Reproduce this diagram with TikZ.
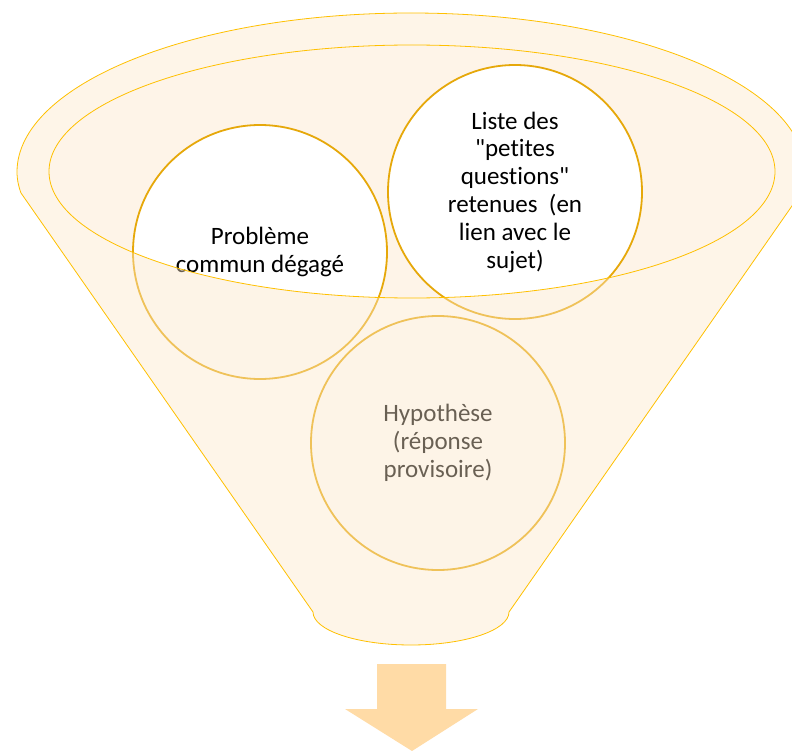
\documentclass[tikz,border=0pt]{standalone}
\usepackage{fontspec}
\setmainfont{Carlito}[Ligatures={TeXOff,CommonOff}]
\definecolor{peach}{RGB}{254,244,232}
\definecolor{overlaycol}{RGB}{252,230,200}
\definecolor{funnelline}{RGB}{255,192,0}
\definecolor{circleline}{RGB}{230,168,10}
\definecolor{arrowfill}{RGB}{255,219,166}
\tikzset{
  bubble/.style={circle, draw=circleline, line width=1.8pt, fill=white,
    minimum size=254pt, inner sep=0pt, align=center, text=black,
    font=\fontsize{25}{27.8}\selectfont},
  funnelstroke/.style={draw=funnelline, line width=0.8pt},
}
\begin{document}
\begin{tikzpicture}[x=1pt,y=1pt]
\useasboundingbox (0,0) rectangle (792,-751);
% inner ellipse background
\fill[peach] (412,-171.5) ellipse[x radius=363, y radius=126.5];
% circles
\node[bubble] (c1) at (260,-252) {Problème\\commun dégagé};
\node[bubble] (c2) at (515,-192) {Liste des\\"petites\\questions"\\retenues~~(en\\lien avec le\\sujet)};
\node[bubble] (c3) at (438,-443) {Hypothèse\\(réponse\\provisoire)};
% funnel body overlay with hole
\fill[overlaycol, fill opacity=0.42, even odd rule]
  (17,-172) arc[start angle=180, end angle=0, x radius=394, y radius=159]
  .. controls (805,-180) and (803,-188) .. (801,-193)
  -- (509,-612) arc[start angle=0, end angle=-180, x radius=98, y radius=33]
  -- (21,-193) .. controls (19,-188) and (17,-180) .. (17,-172) -- cycle
  (412,-171.5) ellipse[x radius=363, y radius=126.5];
% outlines
\draw[funnelstroke]
  (17,-172) arc[start angle=180, end angle=0, x radius=394, y radius=159]
  .. controls (805,-180) and (803,-188) .. (801,-193)
  -- (509,-612) arc[start angle=0, end angle=-180, x radius=98, y radius=33]
  -- (21,-193) .. controls (19,-188) and (17,-180) .. (17,-172) -- cycle;
\draw[funnelstroke] (412,-171.5) ellipse[x radius=363, y radius=126.5];
% arrow
\fill[arrowfill] (377,-664) -- (446,-664) -- (446,-709) -- (478,-709)
  -- (412,-751) -- (345,-709) -- (377,-709) -- cycle;
\end{tikzpicture}
\end{document}
